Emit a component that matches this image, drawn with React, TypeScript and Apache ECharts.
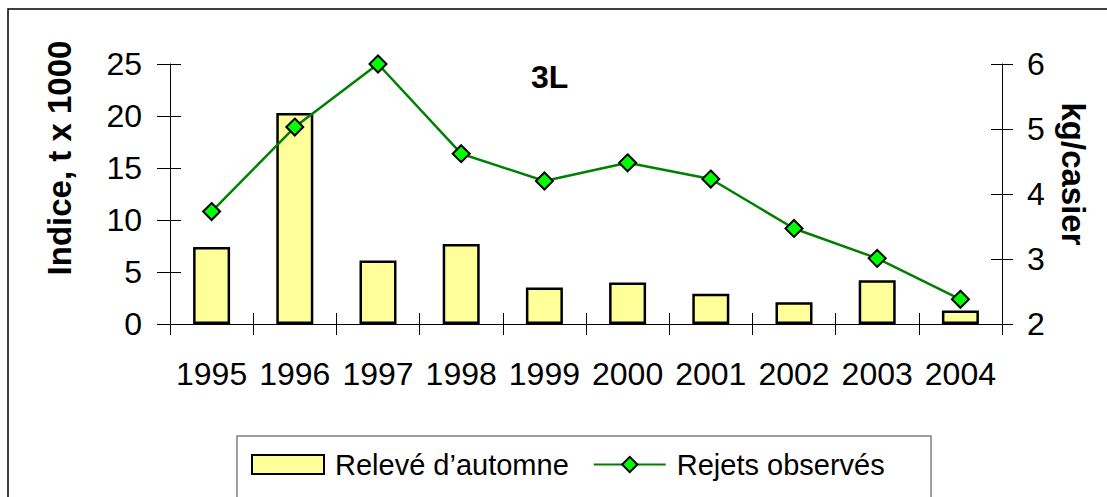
import React, { useEffect, useRef } from "react";
import * as echarts from "echarts";

const years = ["1995", "1996", "1997", "1998", "1999", "2000", "2001", "2002", "2003", "2004"];
const releveAutomne = [7.4, 20.3, 6.1, 7.7, 3.5, 4.0, 2.9, 2.1, 4.2, 1.3];
const rejetsObserves = [3.73, 5.03, 6.0, 4.62, 4.2, 4.48, 4.23, 3.47, 3.01, 2.38];
const leftTicks = { min: 0, max: 25, interval: 5 };
const rightTicks = { min: 2, max: 6, interval: 1 };
const leftName = "Indice, t x 1000";
const rightName = "kg/casier";
const titleText = "3L";

const FONT = "'Liberation Sans', Arial, sans-serif";

export default function App() {
  const ref = useRef<HTMLDivElement>(null);
  useEffect(() => {
    if (!ref.current) return;
    const chart = echarts.init(ref.current, null, { renderer: "svg" });
    const axisLine = { show: true, lineStyle: { color: "#000", width: 1 } };
    const lbl = { color: "#000", fontSize: 32, fontFamily: FONT };
    chart.setOption({
      animation: false,
      backgroundColor: "#fff",
      textStyle: { fontFamily: FONT },
      title: {
        text: titleText,
        left: 531,
        top: 61,
        padding: 0,
        textStyle: { fontSize: 32, fontWeight: "bold", color: "#000", fontFamily: FONT },
      },
      grid: { left: 170, right: 105, top: 64, bottom: 173, containLabel: false },
      legend: {
        left: 251,
        top: 450,
        padding: 0,
        itemWidth: 72,
        itemHeight: 19,
        itemGap: 24,
        textStyle: { fontSize: 29, color: "#000", fontFamily: FONT, padding: [0, 0, 0, 6] },
        data: [
          { name: "Relevé d’automne", icon: "rect" },
          { name: "Rejets observés" },
        ],
      },
      xAxis: [
        {
          type: "category",
          data: years,
          boundaryGap: true,
          axisLine,
          axisTick: { show: true, length: 11, lineStyle: { color: "#000" } },
          axisLabel: { ...lbl, margin: 34, interval: 0 },
        },
        {
          type: "category",
          data: years,
          position: "bottom",
          boundaryGap: true,
          axisLine: { show: false },
          axisTick: { show: true, inside: true, length: 11, lineStyle: { color: "#000" } },
          axisLabel: { show: false },
        },
      ],
      yAxis: [
        {
          type: "value",
          ...leftTicks,
          position: "left",
          axisLine,
          axisTick: { show: true, length: 13, lineStyle: { color: "#000" } },
          axisLabel: { ...lbl, margin: 28 },
          splitLine: { show: false },
        },
        {
          type: "value",
          ...rightTicks,
          position: "right",
          axisLine,
          axisTick: { show: true, length: 11, lineStyle: { color: "#000" } },
          axisLabel: { ...lbl, margin: 25 },
          splitLine: { show: false },
        },
        {
          type: "value",
          ...leftTicks,
          position: "left",
          axisLine: { show: false },
          axisTick: { show: true, inside: true, length: 11, lineStyle: { color: "#000" } },
          axisLabel: { show: false },
          splitLine: { show: false },
        },
        {
          type: "value",
          ...rightTicks,
          position: "right",
          axisLine: { show: false },
          axisTick: { show: true, inside: true, length: 11, lineStyle: { color: "#000" } },
          axisLabel: { show: false },
          splitLine: { show: false },
        },
      ],
      graphic: [
        {
          type: "rect",
          shape: { x: 8, y: 9, width: 1200, height: 600 },
          style: { fill: "none", stroke: "#000", lineWidth: 1.5 },
          z: -10,
        },
        {
          type: "rect",
          shape: { x: 237, y: 436, width: 694, height: 100 },
          style: { fill: "#fff", stroke: "#808080", lineWidth: 1.5 },
          z: -5,
        },
        {
          type: "text",
          x: 59,
          y: 158,
          rotation: Math.PI / 2,
          style: {
            text: leftName,
            fontSize: 33,
            fontWeight: "bold",
            fontFamily: FONT,
            fill: "#000",
            align: "center",
            verticalAlign: "middle",
          },
        },
        {
          type: "text",
          x: 1073,
          y: 174,
          rotation: -Math.PI / 2,
          style: {
            text: rightName,
            fontSize: 33,
            fontWeight: "bold",
            fontFamily: FONT,
            fill: "#000",
            align: "center",
            verticalAlign: "middle",
          },
        },
      ],
      series: [
        {
          name: "Relevé d’automne",
          type: "bar",
          xAxisIndex: 0,
          yAxisIndex: 0,
          data: releveAutomne,
          barWidth: 37,
          itemStyle: { color: "#FFFF99", borderColor: "#000", borderWidth: 2.5 },
        },
        {
          name: "Rejets observés",
          type: "line",
          xAxisIndex: 0,
          yAxisIndex: 1,
          data: rejetsObserves,
          symbol: "diamond",
          symbolSize: 17,
          lineStyle: { color: "#008000", width: 2.5 },
          itemStyle: { color: "#00FF00", borderColor: "#000", borderWidth: 2 },
          z: 5,
        },
      ],
    });
    return () => chart.dispose();
  }, []);
  return (
    <div
      ref={ref}
      style={{ position: "fixed", left: 0, top: 0, width: 1107, height: 497 }}
    />
  );
}
